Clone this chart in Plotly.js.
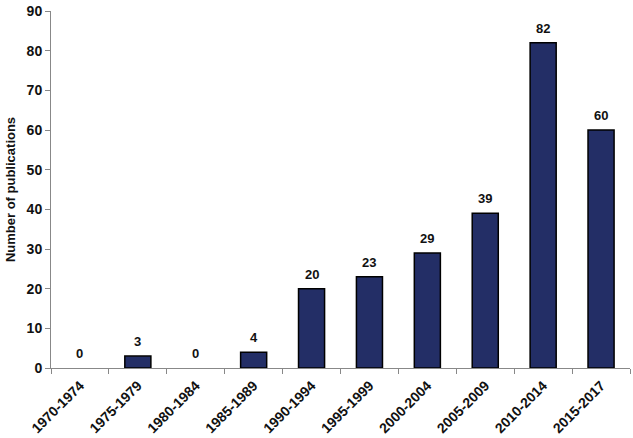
<!DOCTYPE html>
<html>
<head>
<meta charset="utf-8">
<script src="https://cdn.plot.ly/plotly-3.0.1.min.js"></script>
<style>html,body{margin:0;padding:0;background:#fff;}#chart{width:633px;height:438px;}</style>
</head>
<body>
<div id="chart"></div>
<script>
var categories = ["1970-1974","1975-1979","1980-1984","1985-1989","1990-1994","1995-1999","2000-2004","2005-2009","2010-2014","2015-2017"];
var publications = [0,3,0,4,20,23,29,39,82,60];
var yTicks = [0,10,20,30,40,50,60,70,80,90];

var FONT = "Liberation Sans, Arial, sans-serif";

var trace = {
  type: "bar",
  x: categories,
  y: publications,
  marker: {
    color: "#232e66",
    line: {color: "#000", width: publications.map(function(v){ return v > 0 ? 1.5 : 0; })}
  },
  width: 0.45,
  hoverinfo: "none"
};

var annotations = categories.map(function(c, i){
  return {
    x: c, y: publications[i], xref: "x", yref: "y",
    text: String(publications[i]),
    showarrow: false, yanchor: "bottom", yshift: 5,
    font: {family: FONT, size: 13, color: "#111", weight: "bold"}
  };
});

var layout = {
  width: 633, height: 438,
  margin: {l: 51, r: 3, t: 11, b: 70},
  paper_bgcolor: "#fff", plot_bgcolor: "#fff",
  showlegend: false,
  font: {family: FONT, size: 13, color: "#111", weight: "bold"},
  annotations: annotations,
  xaxis: {
    type: "category",
    tickangle: -45,
    tickson: "boundaries",
    ticks: "outside", ticklen: 5, tickcolor: "#888",
    ticklabelstandoff: 3,
    showline: true, linecolor: "#888", linewidth: 1,
    showgrid: false, zeroline: false,
    tickfont: {family: FONT, size: 14, weight: "bold", color: "#111"}
  },
  yaxis: {
    range: [0, 90],
    tickvals: yTicks,
    ticks: "outside", ticklen: 5, tickcolor: "#888",
    showline: true, linecolor: "#888", linewidth: 1,
    showgrid: false, zeroline: false,
    tickfont: {family: FONT, size: 14, weight: "bold", color: "#111"},
    title: {text: "Number of publications", font: {family: FONT, size: 13, weight: "bold", color: "#111"}, standoff: 8}
  }
};

Plotly.newPlot("chart", [trace], layout, {displayModeBar: false, staticPlot: true});
</script>
</body>
</html>
